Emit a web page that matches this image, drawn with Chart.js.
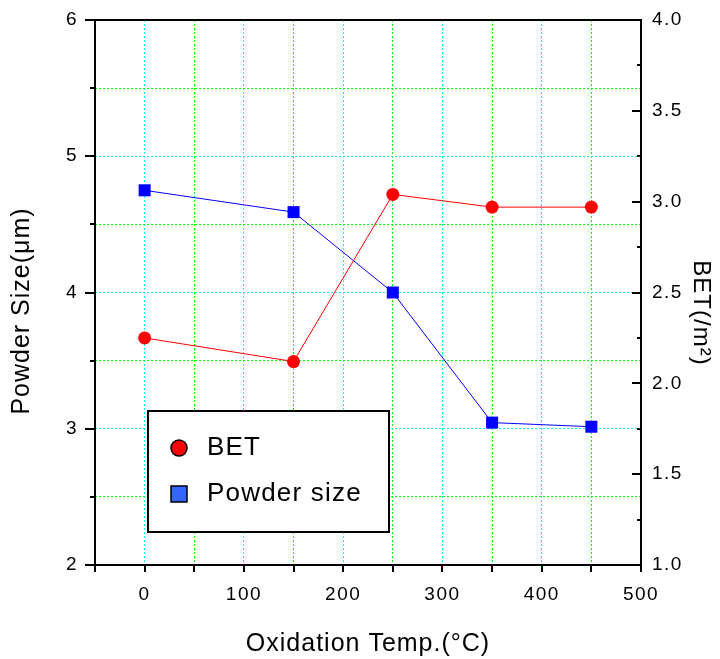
<!DOCTYPE html>
<html>
<head>
<meta charset="utf-8">
<script src="https://cdn.jsdelivr.net/npm/chart.js@4.4.1/dist/chart.umd.min.js"></script>
<style>
  html, body { margin: 0; padding: 0; background: #fff; }
  #wrap { width: 720px; height: 659px; }
</style>
</head>
<body>
<div id="wrap"><canvas id="oxChart" width="720" height="659"></canvas></div>
<script>
// values
const temps = [0, 150, 250, 350, 450];
const betValues = [2.25, 2.12, 3.04, 2.97, 2.97];
const powderSize = [4.75, 4.59, 4.00, 3.045, 3.015];
const seriesNames = ['BET', 'Powder size'];

const xTitle = 'Oxidation Temp.(°C)';
const yTitle = 'Powder Size(μm)';
const y1Title = 'BET(/m²)';
const xRange = [-50, 500];
const yRange = [2, 6];
const y1Range = [1, 4];

const FONT = "'Liberation Sans', Arial, sans-serif";
Chart.defaults.font.family = FONT;
Chart.defaults.color = '#000';

// fixed box sizes so the plot area lands where the figure has it
function fixWidth(w) {
    return s => { s.width = w; s.paddingTop = 0; s.paddingBottom = 0; };
}

// frame, tick marks (inner/outer, major/minor), axis titles, legend box
const figureBits = {
    id: 'figureBits',
    beforeDraw(chart) {
        chart.ctx.letterSpacing = '1.5px';
    },
    afterDraw(chart) {
        const { ctx, chartArea: a, scales } = chart;
        ctx.save();
        ctx.strokeStyle = '#000';
        ctx.lineWidth = 2;
        ctx.strokeRect(a.left, a.top, a.right - a.left, a.bottom - a.top);

        ctx.beginPath();
        scales.x.ticks.forEach(t => {
            const px = Math.round(scales.x.getPixelForValue(t.value));
            ctx.moveTo(px, a.bottom);
            ctx.lineTo(px, a.bottom + 7);
        });
        scales.y.ticks.forEach(t => {
            const py = Math.round(scales.y.getPixelForValue(t.value));
            const len = Number.isInteger(t.value) ? 10 : 5;
            ctx.moveTo(a.left - len, py);
            ctx.lineTo(a.left, py);
        });
        scales.y1.ticks.forEach(t => {
            const py = Math.round(scales.y1.getPixelForValue(t.value));
            ctx.moveTo(a.right - 9, py);
            ctx.lineTo(a.right, py);
            if (t.value < y1Range[1]) {
                const pm = Math.round(scales.y1.getPixelForValue(t.value + 0.25));
                ctx.moveTo(a.right - 4, pm);
                ctx.lineTo(a.right, pm);
            }
        });
        ctx.stroke();

        // axis titles
        ctx.fillStyle = '#000';
        ctx.textAlign = 'center';
        ctx.textBaseline = 'middle';
        ctx.letterSpacing = '1px';
        ctx.font = '25px ' + FONT;
        ctx.fillText(xTitle, (a.left + a.right) / 2, 644);

        ctx.save();
        ctx.translate(22, 311);
        ctx.rotate(-Math.PI / 2);
        ctx.fillText(yTitle, 0, 0);
        ctx.restore();

        ctx.save();
        ctx.font = '24px ' + FONT;
        ctx.translate(701, 313);
        ctx.rotate(Math.PI / 2);
        ctx.fillText(y1Title, 0, 0);
        ctx.restore();

        // legend
        const box = { x: 148, y: 411, w: 241, h: 121 };
        ctx.fillStyle = '#fff';
        ctx.fillRect(box.x, box.y, box.w, box.h);
        ctx.lineWidth = 2;
        ctx.strokeRect(box.x, box.y, box.w, box.h);

        ctx.lineWidth = 1.5;
        ctx.beginPath();
        ctx.arc(179, 448, 8, 0, Math.PI * 2);
        ctx.fillStyle = '#ff0000';
        ctx.fill();
        ctx.stroke();
        ctx.fillStyle = '#3366ff';
        ctx.fillRect(171, 486, 16, 16);
        ctx.strokeRect(171, 486, 16, 16);

        ctx.fillStyle = '#000';
        ctx.textAlign = 'left';
        ctx.font = '26px ' + FONT;
        ctx.letterSpacing = '1.2px';
        chart.data.datasets.forEach((ds, i) => {
            ctx.fillText(ds.label, 207, i === 0 ? 448 : 494);
        });
        ctx.restore();
    }
};

const ctx = document.getElementById('oxChart').getContext('2d');
const oxChart = new Chart(ctx, {
    type: 'line',
    data: {
        datasets: [
            {
                label: seriesNames[0],
                data: temps.map((t, i) => ({ x: t, y: betValues[i] })),
                yAxisID: 'y1',
                borderColor: '#ff0000',
                backgroundColor: '#ff0000',
                borderWidth: 1,
                pointStyle: 'circle',
                pointRadius: 6.5,
                pointBorderWidth: 0
            },
            {
                label: seriesNames[1],
                data: temps.map((t, i) => ({ x: t, y: powderSize[i] })),
                yAxisID: 'y',
                borderColor: '#0000ff',
                backgroundColor: '#0000ff',
                borderWidth: 1,
                pointStyle: 'rect',
                pointRadius: 8.5,
                pointBorderWidth: 0
            }
        ]
    },
    options: {
        responsive: false,
        animation: false,
        devicePixelRatio: 1,
        layout: { padding: { top: 20, left: 0, right: 0, bottom: 0 } },
        plugins: {
            legend: { display: false },
            tooltip: { enabled: false }
        },
        scales: {
            x: {
                type: 'linear',
                position: 'bottom',
                min: xRange[0],
                max: xRange[1],
                afterFit: s => { s.height = 94; s.paddingLeft = 0; s.paddingRight = 0; },
                border: { display: false, dash: [2, 2] },
                grid: {
                    drawTicks: false,
                    lineWidth: 1,
                    color: c => (c.tick && c.tick.value % 100 === 0) ? '#00ffff' : '#00ff00'
                },
                ticks: {
                    stepSize: 50,
                    autoSkip: false,
                    maxRotation: 0,
                    padding: 18,
                    font: { size: 19 },
                    callback: v => (v % 100 === 0 ? v : '')
                }
            },
            y: {
                position: 'left',
                min: yRange[0],
                max: yRange[1],
                afterFit: fixWidth(95),
                border: { display: false, dash: [2, 2] },
                grid: {
                    drawTicks: false,
                    lineWidth: 1,
                    color: c => (c.tick && Number.isInteger(c.tick.value)) ? '#00ffff' : '#00ff00'
                },
                ticks: {
                    stepSize: 0.5,
                    padding: 17,
                    font: { size: 19 },
                    callback: v => (Number.isInteger(v) ? v : '')
                }
            },
            y1: {
                position: 'right',
                min: y1Range[0],
                max: y1Range[1],
                afterFit: fixWidth(79),
                border: { display: false },
                grid: { display: false, drawTicks: false },
                ticks: {
                    stepSize: 0.5,
                    padding: 11,
                    font: { size: 19 },
                    callback: v => v.toFixed(1)
                }
            }
        }
    },
    plugins: [figureBits]
});
</script>
</body>
</html>
